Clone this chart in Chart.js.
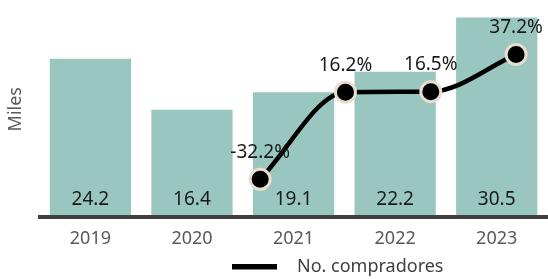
<!DOCTYPE html>
<html>
<head>
<meta charset="utf-8">
<script src="https://cdn.jsdelivr.net/npm/chart.js@4.4.1/dist/chart.umd.min.js"></script>
<style>
  html, body { margin: 0; padding: 0; background: #fff; }
  #wrap { width: 548px; height: 279px; position: relative; }
</style>
</head>
<body>
<div id="wrap"><canvas id="grafico"></canvas></div>
<script>
// datos
const years = ["2019", "2020", "2021", "2022", "2023"];
const miles = [24.2, 16.4, 19.1, 22.2, 30.5];
const lineYears = [2020, 2021, 2022, 2023];
const crecimiento = [-32.2, 16.2, 16.5, 37.2];

const FONT = "'Noto Sans', sans-serif";

// etiquetas de valores (barras y linea) + leyenda
const etiquetas = {
  id: "etiquetas",
  afterDatasetsDraw(chart) {
    const ctx = chart.ctx;
    ctx.save();
    ctx.textAlign = "center";
    ctx.textBaseline = "middle";
    ctx.fillStyle = "#1a1a1a";
    ctx.font = "19px " + FONT;
    chart.getDatasetMeta(1).data.forEach((bar, i) => {
      ctx.fillText(miles[i].toFixed(1), bar.x, 200);
    });
    chart.getDatasetMeta(0).data.forEach((pt, i) => {
      ctx.fillText(crecimiento[i].toFixed(1) + "%", pt.x, pt.y - 27);
    });
    ctx.restore();
  },
  afterDraw(chart) {
    const ctx = chart.ctx;
    ctx.save();
    ctx.fillStyle = "#000";
    ctx.fillRect(232, 264, 45, 5.5);
    ctx.fillStyle = "#404040";
    ctx.font = "18px " + FONT;
    ctx.textAlign = "left";
    ctx.textBaseline = "middle";
    ctx.fillText(chart.data.datasets[0].label, 297, 267);
    ctx.restore();
  }
};

const chart = new Chart(document.getElementById("grafico"), {
  data: {
    labels: years,
    datasets: [
      {
        type: "line",
        label: "No. compradores",
        data: lineYears.map((y, i) => ({ x: y, y: crecimiento[i] })),
        xAxisID: "x2",
        yAxisID: "y2",
        borderColor: "#000",
        borderWidth: 4.5,
        cubicInterpolationMode: "monotone",
        pointRadius: 10,
        pointBorderWidth: 3,
        pointBackgroundColor: "#000",
        pointBorderColor: "#e8ddcf",
        clip: false,
        order: 0
      },
      {
        type: "bar",
        label: "Miles",
        data: miles,
        backgroundColor: "#99c7bf",
        barPercentage: 0.8,
        categoryPercentage: 1,
        grouped: false,
        order: 1
      }
    ]
  },
  options: {
    responsive: true,
    maintainAspectRatio: false,
    animation: false,
    layout: { autoPadding: false, padding: { left: 3, right: 0.5, top: 1, bottom: 18 } },
    scales: {
      x: {
        grid: { display: false, drawTicks: false },
        border: { display: true, color: "#404040", width: 4, z: 1 },
        ticks: { color: "#595959", font: { family: FONT, size: 18 }, padding: 11 }
      },
      x2: {
        type: "linear",
        display: false,
        min: 2017.415,
        max: 2023.368
      },
      y: {
        min: 0,
        max: 33,
        grid: { display: false, drawTicks: false },
        border: { display: false },
        ticks: { display: false },
        title: {
          display: true,
          text: "Miles",
          color: "#595959",
          font: { family: FONT, size: 18 },
          padding: { top: 2, bottom: 13 }
        }
      },
      y2: {
        display: false,
        min: -53.4,
        max: 66.9
      }
    },
    plugins: {
      legend: { display: false },
      tooltip: { enabled: false }
    }
  },
  plugins: [etiquetas]
});
</script>
</body>
</html>
